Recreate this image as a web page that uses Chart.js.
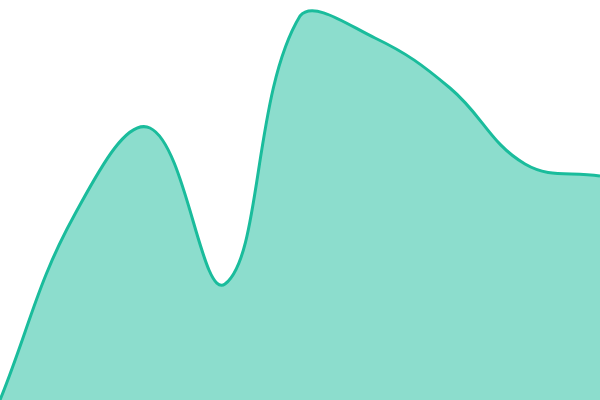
<!DOCTYPE html>
<html>
<head>
<meta charset="utf-8">
<script src="https://cdn.jsdelivr.net/npm/chart.js@4"></script>
<style>
  html, body { margin: 0; padding: 0; background: #fff; }
  #wrap { width: 600px; height: 400px; }
</style>
</head>
<body>
<div id="wrap"><canvas id="chart"></canvas></div>
<script>
const labels = ['1', '2', '3', '4', '5', '6', '7', '8', '9'];
const values = [0, 46.5, 68, 29, 96, 90.5, 78, 59, 56];

const ctx = document.getElementById('chart').getContext('2d');
new Chart(ctx, {
  type: 'line',
  data: {
    labels: labels,
    datasets: [{
      data: values,
      borderColor: '#1abc9c',
      backgroundColor: 'rgba(26, 188, 156, 0.5)',
      borderWidth: 3,
      fill: true,
      tension: 0.4,
      pointRadius: 0,
    }],
  },
  options: {
    responsive: true,
    maintainAspectRatio: false,
    animation: false,
    layout: { padding: 0 },
    scales: {
      x: { display: false },
      y: { display: false, min: 0, max: 100 },
    },
    plugins: {
      legend: { display: false },
      tooltip: { enabled: false },
    },
  },
});
</script>
</body>
</html>
